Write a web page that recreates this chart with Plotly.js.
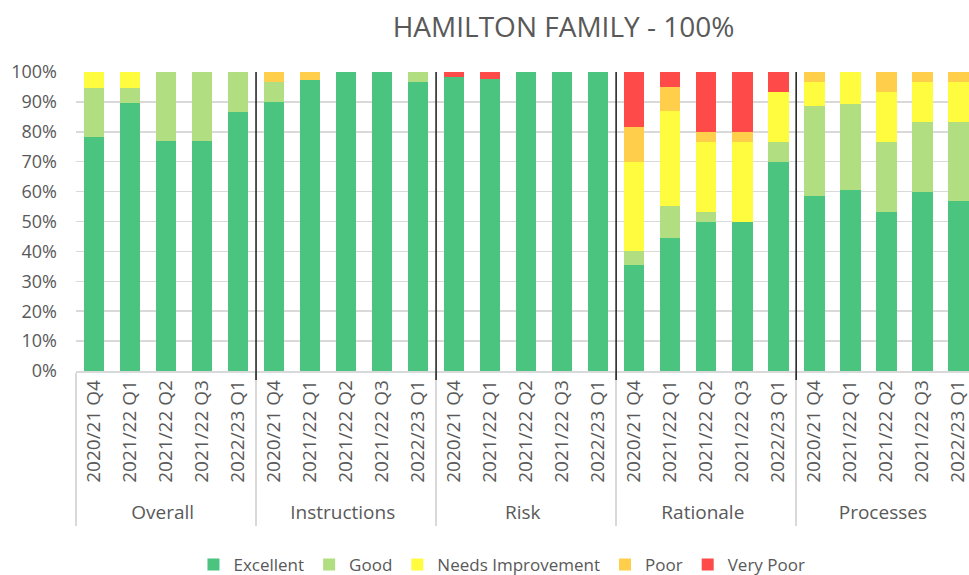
<!DOCTYPE html>
<html>
<head>
<meta charset="utf-8">
<script src="https://cdn.plot.ly/plotly-3.0.1.min.js"></script>
<style>html,body{margin:0;padding:0;overflow:hidden;background:#fff;}#chart{width:969px;height:575px;}</style>
</head>
<body>
<div id="chart"></div>
<script>
var groups = ["Overall", "Instructions", "Risk", "Rationale", "Processes"];
var quarters = ["2020/21 Q4", "2021/22 Q1", "2021/22 Q2", "2021/22 Q3", "2022/23 Q1"];

var excellent = [78.3, 89.5, 76.9, 76.9, 86.7,  90.0, 97.4, 100, 100, 96.7,  98.3, 97.5, 100, 100, 100,  35.3, 44.6, 50.0, 50.0, 70.0,  58.4, 60.4, 53.3, 60.0, 56.7];
var good      = [16.4, 5.3, 23.1, 23.1, 13.3,   6.7, 0, 0, 0, 3.3,            0, 0, 0, 0, 0,            4.7, 10.7, 3.3, 0, 6.7,        30.1, 29.0, 23.4, 23.4, 26.7];
var needsImp  = [5.3, 5.2, 0, 0, 0,             0, 0, 0, 0, 0,                0, 0, 0, 0, 0,            30.0, 31.5, 23.4, 26.7, 16.6,  8.1, 10.6, 16.6, 13.2, 13.2];
var poor      = [0, 0, 0, 0, 0,                 3.3, 2.6, 0, 0, 0,            0, 0, 0, 0, 0,            11.5, 8.2, 3.3, 3.3, 0,        3.4, 0, 6.7, 3.4, 3.4];
var veryPoor  = [0, 0, 0, 0, 0,                 0, 0, 0, 0, 0,                1.7, 2.5, 0, 0, 0,        18.5, 5.0, 20.0, 20.0, 6.7,    0, 0, 0, 0, 0];

var seriesNames = ["Excellent", "Good", "Needs Improvement", "Poor", "Very Poor"];
var seriesColors = ["#4BC47F", "#B1DE80", "#FFFC40", "#FFCE4A", "#FF4A4A"];
var seriesValues = [excellent, good, needsImp, poor, veryPoor];

var xGroup = [], xQuarter = [];
groups.forEach(function (g) {
  quarters.forEach(function (q) { xGroup.push(g); xQuarter.push(q); });
});

var traces = seriesNames.map(function (n, i) {
  return {
    type: "bar",
    name: n,
    x: [xGroup, xQuarter],
    y: seriesValues[i],
    marker: { color: seriesColors[i], line: { width: 0 } },
    hoverinfo: "name+y"
  };
});

var shapes = [];
for (var k = 1; k < groups.length; k++) {
  var b = k * quarters.length - 0.5;
  shapes.push({
    type: "line", xref: "x", yref: "paper",
    x0: b, x1: b, y0: -0.03, y1: 1,
    line: { color: "#1a1a1a", width: 1.5 }
  });
}

var layout = {
  width: 969, height: 575,
  margin: { l: 76, r: 0, t: 72, b: 204, autoexpand: false },
  paper_bgcolor: "#ffffff", plot_bgcolor: "#ffffff",
  font: { family: "Open Sans, sans-serif", color: "#595959", size: 17 },
  title: {
    text: "HAMILTON FAMILY - 100%",
    font: { family: "Open Sans, sans-serif", size: 28, color: "#595959" },
    xref: "paper", x: 0.546, xanchor: "center",
    yref: "container", y: 0.953, yanchor: "middle"
  },
  barmode: "stack",
  bargap: 0.425,
  showlegend: true,
  legend: {
    orientation: "h", x: 0.477, xanchor: "center",
    y: -0.649, yanchor: "middle",
    font: { size: 17, color: "#595959" },
    traceorder: "normal"
  },
  xaxis: {
    type: "multicategory",
    range: [-0.5, 24.3],
    tickangle: -90,
    tickfont: { size: 19, color: "#595959" },
    showline: true, linecolor: "#d9d9d9", linewidth: 1.5,
    showdividers: true, dividercolor: "#d9d9d9", dividerwidth: 1.5,
    ticks: "outside", ticklen: 10, tickcolor: "rgba(0,0,0,0)",
    showgrid: false, zeroline: false, automargin: false
  },
  yaxis: {
    range: [0, 100],
    dtick: 10,
    ticksuffix: "%",
    tickfont: { size: 18, color: "#595959" },
    showgrid: true, gridcolor: "#d9d9d9", gridwidth: 1.5,
    zeroline: false, showline: false,
    ticks: "", ticklabelstandoff: 18,
    fixedrange: true, automargin: false
  },
  shapes: shapes
};

Plotly.newPlot("chart", traces, layout, { displayModeBar: false, staticPlot: true });
</script>
</body>
</html>
